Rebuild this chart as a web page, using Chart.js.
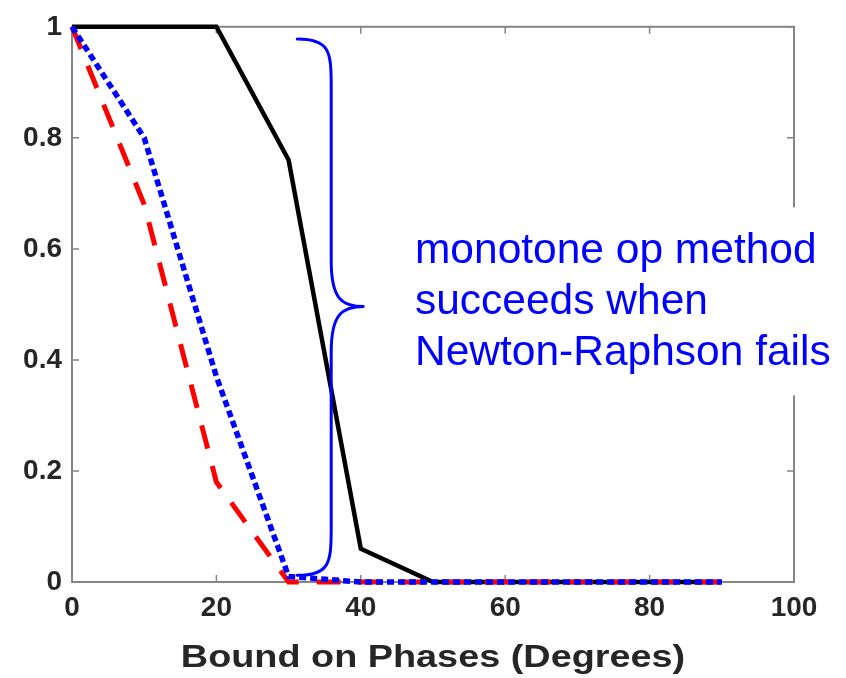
<!DOCTYPE html>
<html>
<head>
<meta charset="utf-8">
<script src="https://cdn.jsdelivr.net/npm/chart.js@4.4.1/dist/chart.umd.min.js"></script>
<style>
  html, body { margin: 0; padding: 0; background: #ffffff; }
  #wrap { width: 846px; height: 678px; position: relative; }
</style>
</head>
<body>
<div id="wrap"><canvas id="c" width="846" height="678"></canvas></div>
<script>
// ---- data ----
const xValues    = [0, 10, 20, 30, 40, 50, 60, 70, 80, 90];
const blackSolid = [1, 1, 1, 0.76, 0.06, 0, 0, 0, 0, 0];
const redDashed  = [1, 0.68, 0.18, 0, 0, 0, 0, 0, 0, 0];
const blueDotted = [1, 0.8, 0.37, 0.01, 0, 0, 0, 0, 0, 0];
const xTickValues = [0, 20, 40, 60, 80, 100];
const yTickValues = [0, 0.2, 0.4, 0.6, 0.8, 1];
const xTitle = 'Bound on Phases (Degrees)';
const noteLines = ['monotone op method', 'succeeds when', 'Newton-Raphson fails'];

const toPoints = vals => xValues.map((x, i) => ({ x: x, y: vals[i] }));

const AXIS_COLOR = '#858585';
const TEXT_COLOR = '#262626';
const NOTE_BLUE = '#0000ff';

const framePlugin = {
  id: 'frame',
  beforeDatasetsDraw(chart) {
    const { ctx, chartArea: a, scales } = chart;
    ctx.save();
    ctx.strokeStyle = AXIS_COLOR;
    ctx.lineWidth = 2;
    ctx.strokeRect(a.left, a.top, a.right - a.left, a.bottom - a.top);
    ctx.lineWidth = 1.5;
    const tl = 7;
    ctx.beginPath();
    scales.x.ticks.forEach(t => {
      const px = scales.x.getPixelForValue(t.value);
      ctx.moveTo(px, a.bottom); ctx.lineTo(px, a.bottom - tl);
      ctx.moveTo(px, a.top); ctx.lineTo(px, a.top + tl);
    });
    scales.y.ticks.forEach(t => {
      const py = scales.y.getPixelForValue(t.value);
      ctx.moveTo(a.left, py); ctx.lineTo(a.left + tl, py);
      ctx.moveTo(a.right, py); ctx.lineTo(a.right - tl, py);
    });
    ctx.stroke();
    ctx.restore();
  },
  afterDraw(chart) {
    const { ctx, chartArea: a, scales } = chart;
    const xs = scales.x, ys = scales.y;
    ctx.save();
    // brace annotation
    const x0 = xs.getPixelForValue(31.2);
    const x1 = xs.getPixelForValue(35.9);
    const x2 = xs.getPixelForValue(40.5);
    const yT = ys.getPixelForValue(0.978);
    const yM = ys.getPixelForValue(0.496);
    const yB = ys.getPixelForValue(0.012);
    const r = 46;
    ctx.strokeStyle = NOTE_BLUE;
    ctx.lineWidth = 3;
    ctx.lineCap = 'round';
    ctx.beginPath();
    ctx.moveTo(x0, yT);
    ctx.bezierCurveTo(x1 - 2, yT, x1, yT + 12, x1, yT + r);
    ctx.lineTo(x1, yM - r);
    ctx.bezierCurveTo(x1, yM - 8, x1 + 10, yM, x2, yM);
    ctx.bezierCurveTo(x1 + 10, yM, x1, yM + 8, x1, yM + r);
    ctx.lineTo(x1, yB - r);
    ctx.bezierCurveTo(x1, yB - 12, x1 - 2, yB, x0, yB);
    ctx.stroke();

    // white text box covering part of the frame
    const bx = xs.getPixelForValue(46.1);
    const bTop = ys.getPixelForValue(0.675);
    const bBot = ys.getPixelForValue(0.336);
    ctx.fillStyle = '#ffffff';
    ctx.fillRect(bx, bTop, chart.width - bx, bBot - bTop);

    ctx.fillStyle = NOTE_BLUE;
    ctx.font = '42.5px "Liberation Sans", Arial, sans-serif';
    ctx.textAlign = 'left';
    ctx.textBaseline = 'alphabetic';
    const tx = xs.getPixelForValue(47.5);
    const ty = ys.getPixelForValue(0.574);
    noteLines.forEach((s, i) => ctx.fillText(s, tx, ty + i * 51));

    // x axis title (stretched bold Helvetica look)
    ctx.fillStyle = TEXT_COLOR;
    ctx.font = 'bold 31px "Liberation Sans", Arial, sans-serif';
    ctx.textAlign = 'center';
    ctx.translate((a.left + a.right) / 2, 667);
    ctx.scale(1.22, 1);
    ctx.fillText(xTitle, 0, 0);
    ctx.restore();
  }
};

new Chart(document.getElementById('c'), {
  type: 'line',
  data: {
    datasets: [
      {
        label: 'Newton-Raphson',
        data: toPoints(blackSolid),
        borderColor: '#000000',
        borderWidth: 4.5,
        pointRadius: 0,
        tension: 0,
        fill: false,
        clip: false,
        order: 3
      },
      {
        label: 'red',
        data: toPoints(redDashed),
        borderColor: '#ff0000',
        borderWidth: 5,
        borderDash: [24, 18],
        pointRadius: 0,
        tension: 0,
        fill: false,
        clip: false,
        order: 2
      },
      {
        label: 'monotone op',
        data: toPoints(blueDotted),
        borderColor: '#0000ff',
        borderWidth: 5.5,
        borderDash: [7, 4],
        pointRadius: 0,
        tension: 0,
        fill: false,
        clip: false,
        order: 1
      }
    ]
  },
  options: {
    responsive: false,
    animation: false,
    devicePixelRatio: 1,
    layout: { padding: { left: 0, right: 52, top: 18, bottom: 0 } },
    plugins: {
      legend: { display: false },
      tooltip: { enabled: false },
      title: { display: false }
    },
    scales: {
      x: {
        type: 'linear',
        min: 0, max: 100,
        afterBuildTicks: s => { s.ticks = xTickValues.map(v => ({ value: v })); },
        afterFit: s => { s.height = 96; },
        grid: { display: false, drawTicks: false },
        border: { display: false },
        ticks: {
          padding: 9,
          color: TEXT_COLOR,
          font: { family: '"Liberation Sans", Arial, sans-serif', size: 28, weight: 'bold' },
          maxRotation: 0,
          callback: v => String(v)
        }
      },
      y: {
        type: 'linear',
        min: 0, max: 1,
        afterBuildTicks: s => { s.ticks = yTickValues.map(v => ({ value: v })); },
        afterFit: s => { s.width = 72; },
        grid: { display: false, drawTicks: false },
        border: { display: false },
        ticks: {
          padding: 10,
          color: TEXT_COLOR,
          font: { family: '"Liberation Sans", Arial, sans-serif', size: 28, weight: 'bold' },
          callback: v => String(Math.round(v * 10) / 10)
        }
      }
    }
  },
  plugins: [framePlugin]
});
</script>
</body>
</html>
